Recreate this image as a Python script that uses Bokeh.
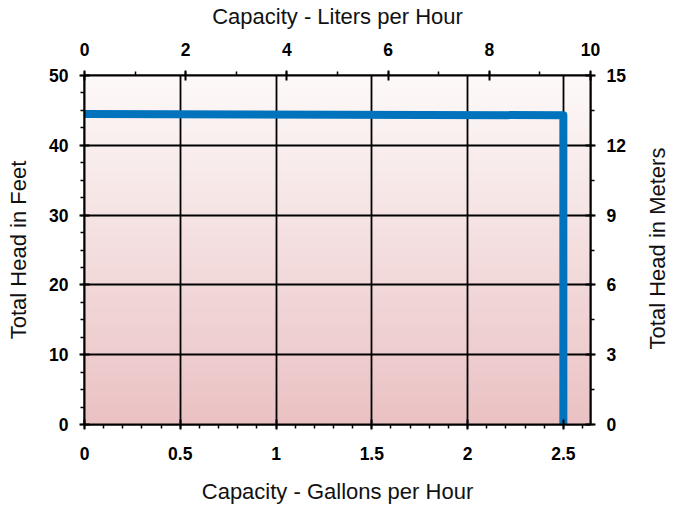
import math
import numpy as np
from bokeh.plotting import figure
from bokeh.models import LinearAxis, Range1d, SingleIntervalTicker, Label
from bokeh.embed import file_html
from bokeh.resources import INLINE

# ---- data ----
gal_per_liter = 1 / 3.785411784
flow_gph = [0.0, 2.5, 2.5]
head_ft = [44.5, 44.3, 0.0]

gph_ticks = [0, 0.5, 1, 1.5, 2, 2.5]
gph_labels = ["0", "0.5", "1", "1.5", "2", "2.5"]
lph_ticks = [0, 2, 4, 6, 8, 10]
ft_ticks = [0, 10, 20, 30, 40, 50]
m_ticks = [0, 3, 6, 9, 12, 15]

lph_max = 10
ft_max = 50
m_max = 15
gph_max = lph_max * gal_per_liter

FONT = "Liberation Sans"

p = figure(width=679, height=506, output_backend="svg", toolbar_location=None,
           x_range=Range1d(0, gph_max), y_range=Range1d(0, ft_max),
           x_axis_location=None, y_axis_location=None,
           min_border_left=84, min_border_right=89, min_border_top=75,
           min_border_bottom=82)
p.extra_x_ranges = {"lph": Range1d(0, lph_max)}
p.extra_y_ranges = {"m": Range1d(0, m_max)}
p.background_fill_color = "white"
p.border_fill_color = "white"
p.outline_line_color = "black"
p.outline_line_width = 2

# gradient background of frame
n = 200
top = np.array([253, 250, 249])
bot = np.array([235, 194, 196])
t = np.linspace(0, 1, n)[:, None]
cols = (bot * (1 - t) + top * t).astype(np.uint32)
img = np.empty((n, 1), dtype=np.uint32)
view = img.view(dtype=np.uint8).reshape((n, 1, 4))
view[:, 0, 0] = cols[:, 0]
view[:, 0, 1] = cols[:, 1]
view[:, 0, 2] = cols[:, 2]
view[:, 0, 3] = 255
p.image_rgba(image=[img], x=0, y=0, dw=gph_max, dh=ft_max, level="image")


def style(ax, standoff, label_standoff):
    ax.axis_line_color = "black"
    ax.axis_line_width = 2
    ax.major_tick_line_color = "black"
    ax.major_tick_line_width = 2
    ax.minor_tick_line_color = "black"
    ax.minor_tick_line_width = 1.5
    ax.major_tick_in = 5
    ax.major_tick_out = 5
    ax.minor_tick_in = 0
    ax.minor_tick_out = 4
    ax.major_label_text_font = FONT
    ax.major_label_text_font_style = "bold"
    ax.major_label_text_font_size = "17.5px"
    ax.major_label_text_color = "black"
    ax.major_label_standoff = standoff
    ax.axis_label_text_font = FONT
    ax.axis_label_text_font_style = "normal"
    ax.axis_label_text_font_size = "22px"
    ax.axis_label_text_color = "#111111"
    ax.axis_label_standoff = label_standoff


xb = LinearAxis(ticker=SingleIntervalTicker(interval=0.5, num_minor_ticks=5),
                axis_label="Capacity - Gallons per Hour")
xb.major_label_overrides = {t_: l for t_, l in zip(gph_ticks, gph_labels)}
style(xb, 17, 16)
p.add_layout(xb, "below")

xt = LinearAxis(x_range_name="lph", ticker=SingleIntervalTicker(interval=2, num_minor_ticks=2),
                axis_label="Capacity - Liters per Hour")
style(xt, 15, 11)
p.add_layout(xt, "above")

yl = LinearAxis(ticker=SingleIntervalTicker(interval=10, num_minor_ticks=4),
                axis_label="Total Head in Feet")
style(yl, 11, 15)
p.add_layout(yl, "left")

yr = LinearAxis(y_range_name="m", ticker=SingleIntervalTicker(interval=3, num_minor_ticks=2))
style(yr, 11, 18)
p.add_layout(yr, "right")

p.add_layout(Label(text="Total Head in Meters", x=29, y=176,
                   x_units="screen", y_units="screen", angle=math.pi / 2,
                   text_align="center", text_baseline="middle",
                   text_font=FONT, text_font_size="22px", text_color="#111111"),
             "right")

p.xgrid.ticker = xb.ticker
p.ygrid.ticker = yl.ticker
p.xgrid.grid_line_color = "black"
p.ygrid.grid_line_color = "black"
p.xgrid.grid_line_width = 1.8
p.ygrid.grid_line_width = 1.8

p.line(flow_gph, head_ft, line_color="#0073BC", line_width=8,
       line_cap="round", line_join="round")

open("out.html", "w").write(file_html(p, INLINE))
